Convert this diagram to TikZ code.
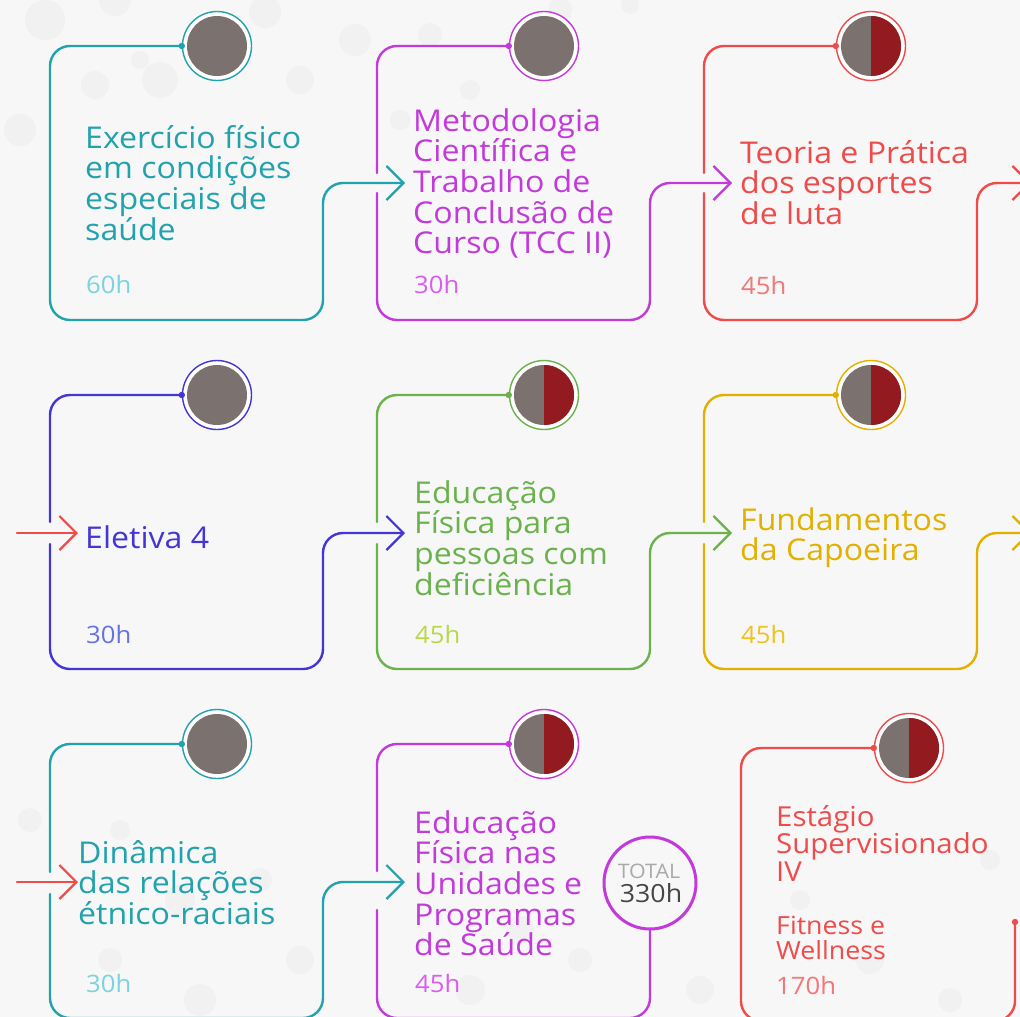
\documentclass[tikz,border=0pt]{standalone}
\usepackage{fontspec}
\setmainfont{Open Sans}[FakeStretch=1.07]
\usetikzlibrary{arrows.meta}
\definecolor{bgc}{HTML}{F7F7F7}
\definecolor{dotc}{HTML}{F1F1F1}
\definecolor{cTeal}{HTML}{22A2AD}
\definecolor{cTealL}{HTML}{7AD3DD}
\definecolor{cPur}{HTML}{C23AD9}
\definecolor{cPurL}{HTML}{D95EF0}
\definecolor{cRed}{HTML}{EE4B4B}
\definecolor{cRedL}{HTML}{F47676}
\definecolor{cBlue}{HTML}{4436D4}
\definecolor{cBlueL}{HTML}{6672E2}
\definecolor{cGrn}{HTML}{6BB24D}
\definecolor{cGrnL}{HTML}{B8D84A}
\definecolor{cYel}{HTML}{E3B000}
\definecolor{cYelL}{HTML}{F2C21C}
\definecolor{cGray}{HTML}{7B7270}
\definecolor{cDark}{HTML}{931A1E}
\definecolor{cTotL}{HTML}{A9A9A9}
\definecolor{cTotD}{HTML}{454545}
\newcommand\ttlA[1]{\parbox[t]{340pt}{\raggedright\fontsize{30}{30.7}\selectfont #1}}
\newcommand\ttlB[1]{\parbox[t]{340pt}{\raggedright\fontsize{27.5}{27.8}\selectfont #1}}
\newcommand\ttlC[1]{\parbox[t]{340pt}{\raggedright\fontsize{25}{25}\selectfont #1}}
\tikzset{
  cardline/.style={draw=#1, line width=2.4pt, rounded corners=20pt},
  conn/.style={draw=#1, line width=2.4pt, rounded corners=20pt,
    -{Straight Barb[length=17pt,width=34pt,line width=2.2pt]}},
  ring/.style={circle, draw=#1, line width=1.4pt, fill=white, minimum size=69pt, inner sep=0pt},
  ttl/.style={anchor=base west, inner sep=0pt, text=#1},
  hrs/.style={anchor=base west, inner sep=0pt, text=#1, font=\fontsize{24}{24}\selectfont},
}
\newcommand\grayfill[1]{\fill[cGray] (#1.center) circle (30pt);}
\newcommand\halffill[1]{\fill[cGray] (#1.center) circle (30pt);
  \begin{scope}\clip (#1.center) ++(0,-32) rectangle ++(32,64);
  \fill[cDark] (#1.center) circle (30pt);\end{scope}}
\begin{document}
\begin{tikzpicture}[x=1pt,y=-1pt,line join=round,line cap=round]
\clip (0,0) rectangle (1020,1017);
\fill[bgc] (0,0) rectangle (1020,1017);
% faint background dots
\foreach \x/\y/\r in {45/20/20,115/0/16,160/80/18,95/85/14,20/130/16,265/12/16,300/80/14,355/40/16,430/35/12,470/90/10,
  250/150/10,140/60/9,400/120/10,560/10/12,630/5/9,
  30/820/12,120/830/10,180/900/15,260/880/12,300/960/14,200/1000/16,110/960/12,460/860/12,520/930/14,470/990/15,
  580/960/12,700/990/14,800/900/10,870/960/14,950/1000/12,990/860/10}
  \fill[dotc] (\x,\y) circle (\r pt);

% ---------- Row 1 ----------
\node[ring=cTeal] (r11) at (217,46) {}; \grayfill{r11}
\node[ring=cPur]  (r12) at (544,46) {}; \grayfill{r12}
\node[ring=cRed]  (r13) at (871,46) {}; \halffill{r13}
\coordinate (a12) at (405,183);
\coordinate (a13) at (732,183);
\coordinate (a14) at (1031,183);

\draw[conn=cTeal] (r11.west) -- (50,46) -- (50,320) -- (323,320) -- (323,183) -- (a12);
\fill[cTeal] (r11.west) circle (3.2pt);

\draw[cardline=cPur] (r12.west) -- (377,46) -- (377,173);
\draw[conn=cPur] (377,193) -- (377,320) -- (650,320) -- (650,183) -- (a13);
\fill[cPur] (r12.west) circle (3.2pt);

\draw[cardline=cRed] (r13.west) -- (704,46) -- (704,173);
\draw[conn=cRed] (704,193) -- (704,320) -- (977,320) -- (977,183) -- (a14);
\fill[cRed] (r13.west) circle (3.2pt);

\node[ttl=cTeal] (t11) at (85,148) {\ttlA{Exercício físico\\em condições\\especiais de\\saúde}};
\node[hrs=cTealL] (h11) at (86,293) {60h};
\node[ttl=cPur] (t12) at (413,131) {\ttlA{Metodologia\\Científica e\\Trabalho de\\Conclusão de\\Curso (TCC II)}};
\node[hrs=cPurL] (h12) at (414,293) {30h};
\node[ttl=cRed] (t13) at (740,163) {\ttlA{Teoria e Prática\\dos esportes\\de luta}};
\node[hrs=cRedL] (h13) at (741,294) {45h};

% ---------- Row 2 ----------
\node[ring=cBlue] (r21) at (217,395) {}; \grayfill{r21}
\node[ring=cGrn]  (r22) at (544,395) {}; \halffill{r22}
\node[ring=cYel]  (r23) at (871,395) {}; \halffill{r23}
\coordinate (s21) at (17,533);
\coordinate (a21) at (78,533);
\coordinate (a22) at (405,533);
\coordinate (a23) at (732,533);
\coordinate (a24) at (1031,533);

\draw[conn=cRed] (s21) -- (a21);

\draw[cardline=cBlue] (r21.west) -- (50,395) -- (50,522);
\draw[conn=cBlue] (50,544) -- (50,669) -- (323,669) -- (323,533) -- (a22);
\fill[cBlue] (r21.west) circle (3.2pt);

\draw[cardline=cGrn] (r22.west) -- (377,395) -- (377,522);
\draw[conn=cGrn] (377,544) -- (377,669) -- (650,669) -- (650,533) -- (a23);
\fill[cGrn] (r22.west) circle (3.2pt);

\draw[cardline=cYel] (r23.west) -- (704,395) -- (704,522);
\draw[conn=cYel] (704,544) -- (704,669) -- (977,669) -- (977,533) -- (a24);
\fill[cYel] (r23.west) circle (3.2pt);

\node[ttl=cBlue] (t21) at (85,548) {\ttlA{Eletiva 4}};
\node[hrs=cBlueL] (h21) at (86,643) {30h};
\node[ttl=cGrn] (t22) at (414,503) {\ttlA{Educação\\Física para\\pessoas com\\deficiência}};
\node[hrs=cGrnL] (h22) at (415,643) {45h};
\node[ttl=cYel] (t23) at (740,530) {\ttlA{Fundamentos\\da Capoeira}};
\node[hrs=cYelL] (h23) at (741,643) {45h};

% ---------- Row 3 ----------
\node[ring=cTeal] (r31) at (217,744) {}; \grayfill{r31}
\node[ring=cPur]  (r32) at (544,744) {}; \halffill{r32}
\node[ring=cRed]  (r33) at (909,748) {}; \halffill{r33}
\coordinate (s31) at (17,882);
\coordinate (a31) at (78,882);
\coordinate (a32) at (405,882);
\coordinate (e33) at (1015,922);

\draw[conn=cRed] (s31) -- (a31);

\draw[cardline=cTeal] (r31.west) -- (50,744) -- (50,872);
\draw[conn=cTeal] (50,894) -- (50,1018) -- (323,1018) -- (323,882) -- (a32);
\fill[cTeal] (r31.west) circle (3.2pt);

\node[circle, draw=cPur, line width=3pt, fill=bgc, minimum size=92pt, inner sep=0pt] (tot) at (650,883) {};
\draw[cardline=cPur] (r32.west) -- (377,744) -- (377,871);
\draw[cardline=cPur] (377,910) -- (377,1018) -- (650,1018) -- (tot.south);
\fill[cPur] (r32.west) circle (3.2pt);

\draw[cardline=cRed] (r33.west) -- (741,748) -- (741,1021) -- (1015,1021) -- (e33);
\fill[cRed] (r33.west) circle (3.2pt);
\fill[cRed] (e33) circle (3.2pt);

\node[ttl=cTeal] (t31) at (78,863) {\ttlA{Dinâmica\\das relações\\étnico-raciais}};
\node[hrs=cTealL] (h31) at (86,992) {30h};
\node[ttl=cPur] (t32) at (414,833) {\ttlA{Educação\\Física nas\\Unidades e\\Programas\\de Saúde}};
\node[hrs=cPurL] (h32) at (415,992) {45h};
\node[ttl=cRed] (t33) at (776,826) {\ttlB{Estágio\\Supervisionado\\IV}};
\node[ttl=cRed] (s33) at (776,934) {\ttlC{Fitness e\\Wellness}};
\node[hrs=cRedL] (h33) at (776,994) {170h};

\node[anchor=base, inner sep=0pt, text=cTotL, font=\fontsize{20}{20}\selectfont] (totA) at (649,878) {TOTAL};
\node[anchor=base, inner sep=0pt, text=cTotD, font=\fontsize{25}{25}\selectfont] (totB) at (651,902) {330h};
\end{tikzpicture}
\end{document}
